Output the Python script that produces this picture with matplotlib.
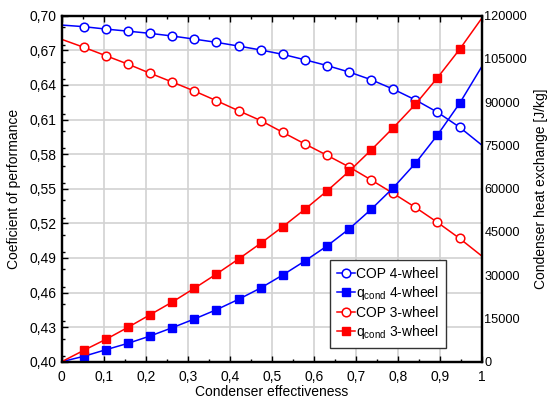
import matplotlib
matplotlib.use("Agg")
import matplotlib.pyplot as plt
from matplotlib.ticker import FixedLocator, FuncFormatter, MultipleLocator

plt.rcParams['font.family'] = ['Liberation Sans', 'DejaVu Sans']
plt.rcParams['mathtext.fontset'] = 'custom'
plt.rcParams['mathtext.rm'] = 'Liberation Sans'
plt.rcParams['mathtext.it'] = 'Liberation Sans:italic'

# Condenser effectiveness (end points carry the line, interior points carry markers)
effectiveness = [0.0, 0.0526, 0.1053, 0.1579, 0.2105, 0.2632, 0.3158, 0.3684, 0.4211, 0.4737,
                 0.5263, 0.5789, 0.6316, 0.6842, 0.7368, 0.7895, 0.8421, 0.8947, 0.9474, 1.0]

cop_4wheel = [0.6919, 0.6905, 0.6884, 0.6866, 0.6847, 0.6824, 0.6797, 0.6769, 0.6737, 0.6703,
              0.6665, 0.6618, 0.6568, 0.6512, 0.6445, 0.6363, 0.6270, 0.6163, 0.6033, 0.5879]
cop_3wheel = [0.6795, 0.6726, 0.6653, 0.6580, 0.6501, 0.6425, 0.6347, 0.6263, 0.6176, 0.6091,
              0.5989, 0.5888, 0.5790, 0.5689, 0.5576, 0.5459, 0.5338, 0.5208, 0.5069, 0.4917]

qcond_4wheel = [0, 1870, 4160, 6380, 8910, 11790, 14810, 18030, 21640, 25560,
                30070, 34920, 40130, 46020, 52850, 60340, 68810, 78620, 89610, 102300]
qcond_3wheel = [0, 3950, 7770, 11930, 16300, 20700, 25460, 30410, 35620, 41060,
                46820, 52850, 59200, 66030, 73420, 81150, 89270, 98490, 108340, 119090]

x_ticks = [0, 0.1, 0.2, 0.3, 0.4, 0.5, 0.6, 0.7, 0.8, 0.9, 1.0]
cop_ticks = [0.40, 0.43, 0.46, 0.49, 0.52, 0.55, 0.58, 0.61, 0.64, 0.67, 0.70]
q_ticks = [0, 15000, 30000, 45000, 60000, 75000, 90000, 105000, 120000]

BLUE = '#0000ff'
RED = '#ff0000'

fig = plt.figure(figsize=(5.54, 4.04), dpi=100)
ax = fig.add_axes([0.1114, 0.1047, 0.7581, 0.8564])
ax2 = ax.twinx()

inner = slice(1, -1)
l1, = ax.plot(effectiveness, cop_4wheel, color=BLUE, lw=1.1, marker='o', ms=6.2,
              mfc='white', mec=BLUE, mew=1.1, markevery=inner, label='COP 4-wheel')
l3, = ax.plot(effectiveness, cop_3wheel, color=RED, lw=1.1, marker='o', ms=6.2,
              mfc='white', mec=RED, mew=1.1, markevery=inner, label='COP 3-wheel')
l2, = ax2.plot(effectiveness, qcond_4wheel, color=BLUE, lw=1.1, marker='s', ms=5.2,
               mfc=BLUE, mec=BLUE, markevery=inner, label=r'q$_{\mathrm{cond}}$ 4-wheel')
l4, = ax2.plot(effectiveness, qcond_3wheel, color=RED, lw=1.1, marker='s', ms=5.2,
               mfc=RED, mec=RED, markevery=inner, label=r'q$_{\mathrm{cond}}$ 3-wheel')

comma = FuncFormatter(lambda v, p: ('%g' % round(v, 2)).replace('.', ','))

ax.set_xlim(0, 1)
ax.set_ylim(0.40, 0.70)
ax.xaxis.set_major_locator(FixedLocator(x_ticks))
ax.xaxis.set_minor_locator(MultipleLocator(0.05))
ax.yaxis.set_major_locator(FixedLocator(cop_ticks))
ax.yaxis.set_minor_locator(MultipleLocator(0.015))
ax.xaxis.set_major_formatter(comma)
ax.yaxis.set_major_formatter(FuncFormatter(lambda v, p: ('%.2f' % v).replace('.', ',')))
ax.grid(True, which='major', color='#d2d2d2', lw=1.2)
ax.set_axisbelow(True)
ax.tick_params(axis='both', which='both', direction='in', labelsize=10, top=True)
ax.tick_params(axis='both', which='major', length=4, width=1)
ax.tick_params(axis='both', which='minor', length=2.5, width=1)
ax.tick_params(axis='y', which='both', right=False)
ax.tick_params(axis='x', pad=6)

ax2.set_ylim(0, 120000)
ax2.yaxis.set_major_locator(FixedLocator(q_ticks))
ax2.tick_params(axis='y', which='both', direction='in', length=0, labelsize=9.2, pad=2)

for a in (ax, ax2):
    for s in a.spines.values():
        s.set_linewidth(1.6)
        s.set_color('black')

ax.set_xlabel('Condenser effectiveness', fontsize=10, labelpad=1)
ax.set_ylabel('Coeficient of performance', fontsize=10, labelpad=6)
ax2.set_ylabel('Condenser heat exchange [J/kg]', fontsize=10, labelpad=5)

leg = ax2.legend(handles=[l1, l2, l3, l4], loc='lower left',
                 bbox_to_anchor=(0.639, 0.039), fontsize=10, frameon=True,
                 fancybox=False, edgecolor='#333333', framealpha=1,
                 handlelength=1.3, handletextpad=0.1, borderpad=0.5,
                 labelspacing=0.25, borderaxespad=0)
leg.get_frame().set_linewidth(1.0)

fig.savefig('out.png', dpi=100)
